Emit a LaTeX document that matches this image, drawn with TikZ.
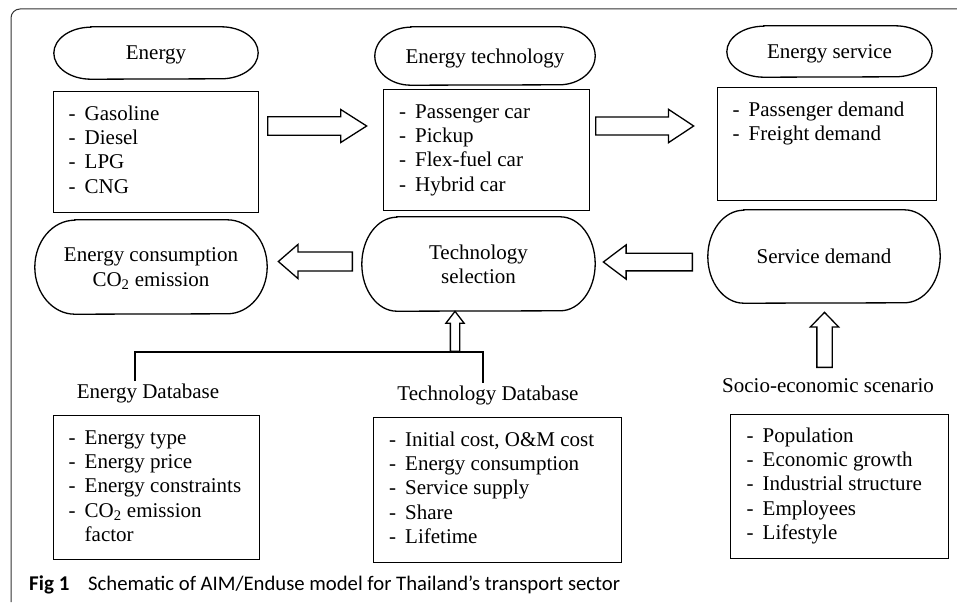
\documentclass[tikz,border=0pt]{standalone}
\usepackage{fontspec}
\setmainfont{Liberation Serif}
\newfontfamily\capfont{Carlito}
\usetikzlibrary{positioning,shapes.arrows}

\newcommand{\lst}[1]{\begin{tabular}{@{}l@{\hspace{9pt}}l@{}}#1\end{tabular}}
\newcommand{\pill}[3]{\draw[line width=1.3pt] ([xshift=#2]#1.north west) -- ([xshift=-#2]#1.north east) arc[start angle=90, end angle=-90, x radius=#2, y radius=#3] -- ([xshift=#2]#1.south west) arc[start angle=270, end angle=90, x radius=#2, y radius=#3] -- cycle;}

\tikzset{
  every node/.append style={font=\fontsize{21}{24.3}\selectfont},
  pill/.style={inner sep=0pt, align=center, text depth=0pt},
  box/.style={draw, line width=1.3pt, inner sep=0pt, anchor=north west},
  lst/.style={inner sep=0pt},
  lbl/.style={inner sep=2pt, anchor=base},
  blockarr/.style={draw, line width=1.3pt, single arrow, anchor=tail, single arrow head indent=0pt},
}

\begin{document}
\begin{tikzpicture}[x=1pt,y=-1pt]
	\useasboundingbox (0,0) rectangle (957,602);
	\draw[line width=1pt, black!80, rounded corners=9pt] (11,602) -- (11,9) -- (957,9);

	\node[pill, minimum width=204pt, minimum height=52pt] (energy) at (156,53) {Energy};
	\node[pill, minimum width=220pt, minimum height=58pt] (tech) at (485,56) {Energy technology};
	\node[pill, minimum width=205pt, minimum height=51pt] (service) at (829.5,51.5) {Energy service};
	\pill{energy}{37pt}{26pt}
	\pill{tech}{36pt}{29pt}
	\pill{service}{37pt}{25.5pt}

	\node[box, minimum width=205pt, minimum height=121pt] (egybox) at (53,91) {};
	\node[lst, below right=12pt and 15.5pt of egybox.north west] (egylst) {\lst{- & Gasoline\\ - & Diesel\\ - & LPG\\ - & CNG}};
	\node[box, minimum width=206pt, minimum height=121pt] (techbox) at (383,89) {};
	\node[lst, below right=12pt and 16pt of techbox.north west] (techlst) {\lst{- & Passenger car\\ - & Pickup\\ - & Flex-fuel car\\ - & Hybrid car}};
	\node[box, minimum width=219pt, minimum height=113pt] (servbox) at (717,87) {};
	\node[lst, below right=12pt and 15.5pt of servbox.north west] (servlst) {\lst{- & Passenger demand\\ - & Freight demand}};

	\node[blockarr, minimum height=99pt, inner sep=8.6pt, single arrow head extend=7.2pt, single arrow tip angle=65] (arr1) at (267,126) {};
	\node[blockarr, minimum height=98pt, inner sep=8.4pt, single arrow head extend=7.6pt, single arrow tip angle=67] (arr2) at (595,126) {};

	\node[pill, minimum width=232pt, minimum height=94pt] (consum) at (151,267) {Energy consumption\\CO\textsubscript{2} emission};
	\node[pill, minimum width=233pt, minimum height=94pt] (select) at (478.5,264) {Technology\\selection};
	\node[pill, minimum width=232pt, minimum height=93pt] (demand) at (824,256.5) {Service demand};
	\pill{consum}{40pt}{47pt}
	\pill{select}{35pt}{47pt}
	\pill{demand}{36pt}{46.5pt}

	\node[blockarr, shape border rotate=180, minimum height=74pt, inner sep=8.8pt, single arrow head extend=7.7pt, single arrow tip angle=82] (arr3) at (353,261.5) {};
	\node[blockarr, shape border rotate=180, minimum height=89pt, inner sep=8.2pt, single arrow head extend=8.3pt, single arrow tip angle=74] (arr4) at (693,262) {};

	\node[lbl] (egydb) at (148,398) {Energy Database};
	\node[lbl] (techdb) at (488,400) {Technology Database};
	\node[lbl] (socio) at (828,392) {Socio-economic scenario};
	\coordinate (join) at (455,352);
	\draw[line width=1.3pt] ([xshift=-13pt]egydb.north) |- (join) -| ([xshift=-5pt]techdb.north);
	\node[blockarr, shape border rotate=90, minimum height=40pt, inner sep=4pt, single arrow head extend=4.5pt, single arrow tip angle=75] (arr5) at (join) {};
	\node[blockarr, shape border rotate=90, minimum height=55pt, inner sep=7pt, single arrow head extend=6.5pt, single arrow tip angle=88] (arr6) at (824.5,368) {};

	\node[box, minimum width=206pt, minimum height=144pt] (egydbbox) at (53,415) {};
	\node[lst, below right=12pt and 15.5pt of egydbbox.north west] (egydblst) {\lst{- & Energy type\\ - & Energy price\\ - & Energy constraints\\ - & CO\textsubscript{2} emission\\ & factor}};
	\node[box, minimum width=248pt, minimum height=145pt] (techdbbox) at (373,417) {};
	\node[lst, below right=12pt and 16pt of techdbbox.north west] (techdblst) {\lst{- & Initial cost, O\&M cost\\ - & Energy consumption\\ - & Service supply\\ - & Share\\ - & Lifetime}};
	\node[box, minimum width=218pt, minimum height=144pt] (sociobox) at (730,414) {};
	\node[lst, below right=11pt and 16.5pt of sociobox.north west] (sociolst) {\lst{- & Population\\ - & Economic growth\\ - & Industrial structure\\ - & Employees\\ - & Lifestyle}};

	\node[anchor=base west, inner sep=0pt, font=\capfont\fontsize{21}{23}\selectfont\bfseries] (figno) at (29,590) {Fig\hspace{5pt}1};
	\node[anchor=base west, inner sep=0pt, font=\capfont\fontsize{20.7}{23}\selectfont] (figtxt) at (88,590) {Schematic of AIM/Enduse model for Thailand’s transport sector};
\end{tikzpicture}
\end{document}
